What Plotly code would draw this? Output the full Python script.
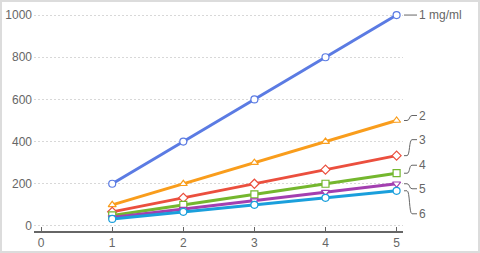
import plotly.graph_objects as go

x_vals = [1, 2, 3, 4, 5]
series_names = ["1 mg/ml", "2", "3", "4", "5", "6"]
series_values = [
    [200, 400, 600, 800, 1000],
    [100, 200, 300, 400, 500],
    [66.7, 133.3, 200, 266.7, 333.3],
    [50, 100, 150, 200, 250],
    [40, 80, 120, 160, 200],
    [33.3, 66.7, 100, 133.3, 166.7],
]
colors = ["#5b7be3", "#f99d1c", "#eb4f3e", "#74b72e", "#a33fb0", "#1a9fdc"]
symbols = ["circle", "triangle-up", "diamond", "square", "triangle-down", "circle"]
# label offsets (pixels, up positive) from last point
label_dy = [0, 5, 16, 8, -5, -23]

W, H = 480, 253
ml, mr, mt, mb = 34, 77, 10, 22
pw, ph = W - ml - mr, H - mt - mb
font_family = "Arial, Liberation Sans, sans-serif"

fig = go.Figure()
for name, vals, c, s in zip(series_names, series_values, colors, symbols):
    fig.add_trace(go.Scatter(
        x=x_vals, y=vals, mode="lines+markers", name=name,
        line=dict(color=c, width=3),
        marker=dict(symbol=s, size=7, color="white", line=dict(width=1.2, color=c)),
        showlegend=False,
    ))

shapes = []
annotations = []
for name, vals, c, dy in zip(series_names, series_values, colors, label_dy):
    ye = vals[-1]
    if dy == 0:
        path = "M 1 0 L 14 0"
    else:
        path = f"M 1 0 L 4 0 C 7 0 6 {dy} 9 {dy} L 14 {dy}"
    shapes.append(dict(type="path", xref="paper", yref="y", xsizemode="pixel", ysizemode="pixel",
                       xanchor=1, yanchor=ye, path=path,
                       line=dict(color="#666666", width=1)))
    annotations.append(dict(x=1, y=ye, xref="paper", yref="y", text=name, showarrow=False,
                            xanchor="left", yanchor="middle", xshift=14, yshift=dy,
                            font=dict(size=12, color="#666666", family=font_family)))

# outer frame
shapes.append(dict(type="rect", xref="paper", yref="paper", layer="below",
                   x0=(1 - ml) / pw, x1=(W - 1 - ml) / pw,
                   y0=-(H - 1 - mt - ph) / ph, y1=1 + (mt - 1) / ph,
                   line=dict(color="#dcdcdc", width=2), fillcolor="rgba(0,0,0,0)"))

fig.update_layout(
    width=W, height=H,
    margin=dict(l=ml, r=mr, t=mt, b=mb, autoexpand=False),
    paper_bgcolor="white", plot_bgcolor="white",
    font=dict(family=font_family, size=12, color="#666666"),
    xaxis=dict(range=[-0.1, 5.09], tickvals=[0, 1, 2, 3, 4, 5], showgrid=False, zeroline=False,
               showline=True, linecolor="#666666", linewidth=1.5, ticks="inside", ticklen=4,
               tickcolor="#666666", tickfont=dict(size=12, color="#666666"), automargin=False),
    yaxis=dict(range=[-24, 1024], tickvals=[0, 200, 400, 600, 800, 1000], showgrid=True,
               gridcolor="#d8d8d8", griddash="2px,2px", gridwidth=1, zeroline=False, showline=False,
               tickfont=dict(size=12, color="#666666"), ticklabelstandoff=1, automargin=False),
    shapes=shapes, annotations=annotations,
)
fig.write_html("out.html")
